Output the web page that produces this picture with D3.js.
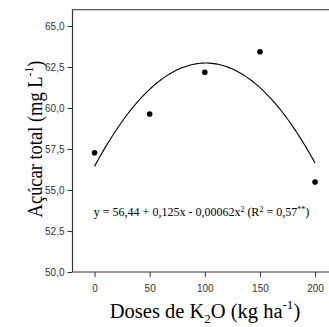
<!DOCTYPE html>
<html><head><meta charset="utf-8">
<script src="https://cdn.jsdelivr.net/npm/d3@7"></script>
<style>body{margin:0;background:#fff}svg{display:block}</style>
</head><body>
<script>
const doses = [0, 50, 100, 150, 200];
const acucar = [57.27, 59.63, 62.18, 63.43, 55.49];
const coef = [56.44, 0.125, -0.00062];
const xTicks = [0, 50, 100, 150, 200];
const yTicks = [50, 52.5, 55, 57.5, 60, 62.5, 65];

const W = 329, H = 327;
const svg = d3.select("body").append("svg").attr("width", W).attr("height", H);
const x = d3.scaleLinear().domain([-20, 212]).range([72.5, 328.3]);
const y = d3.scaleLinear().domain([50, 66]).range([272, 9.6]);
const fmt = v => d3.format(".1f")(v).replace(".", ",");

// frame top line
svg.append("line").attr("x1", x(-20)).attr("x2", W).attr("y1", y(66)).attr("y2", y(66))
  .attr("stroke", "#555").attr("stroke-width", 1.3);

const ya = svg.append("g").attr("transform", `translate(${x(-20)},0)`)
  .call(d3.axisLeft(y).tickValues(yTicks).tickFormat(fmt).tickSize(5).tickPadding(3));
const xa = svg.append("g").attr("transform", `translate(0,${y(50)})`)
  .call(d3.axisBottom(x).tickValues(xTicks).tickSize(5).tickPadding(8));
[ya, xa].forEach(a => {
  a.select(".domain").attr("stroke", "#333").attr("stroke-width", 1.2);
  a.selectAll(".tick line").attr("stroke", "#333");
  a.selectAll("text").attr("font-family", "Liberation Sans, Arial, sans-serif")
    .attr("font-size", 10).attr("fill", "#333");
});
ya.select(".domain").attr("d", `M0,${y(50)}V${y(66)}`);
xa.select(".domain").attr("d", `M${x(-20)},0H${W}`);

// regression curve
const xs = d3.range(0, 200.01, 2);
const line = d3.line().x(d => x(d)).y(d => y(coef[0] + coef[1] * d + coef[2] * d * d));
svg.append("path").datum(xs).attr("d", line).attr("fill", "none")
  .attr("stroke", "#000").attr("stroke-width", 1.1);

svg.selectAll("circle.pt").data(doses).enter().append("circle")
  .attr("cx", d => x(d)).attr("cy", (d, i) => y(acucar[i])).attr("r", 2.8).attr("fill", "#000");

// equation
const eq = svg.append("text").attr("x", 201.5).attr("y", 216).attr("text-anchor", "middle")
  .attr("font-family", "Liberation Serif, Times New Roman, serif").attr("font-size", 12).attr("fill", "#000");
eq.append("tspan").text("y = 56,44 + 0,125x - 0,00062x");
eq.append("tspan").attr("dy", -4.5).attr("font-size", 8).text("2");
eq.append("tspan").attr("dy", 4.5).text(" (R");
eq.append("tspan").attr("dy", -4.5).attr("font-size", 8).text("2");
eq.append("tspan").attr("dy", 4.5).text(" = 0,57");
eq.append("tspan").attr("dy", -4.5).attr("font-size", 8).text("**");
eq.append("tspan").attr("dy", 4.5).text(")");

// x title
const xt = svg.append("text").attr("x", 205).attr("y", 318).attr("text-anchor", "middle")
  .attr("font-family", "Liberation Serif, Times New Roman, serif").attr("font-size", 20.5).attr("fill", "#000");
xt.append("tspan").text("Doses de K");
xt.append("tspan").attr("dy", 5).attr("font-size", 13).text("2");
xt.append("tspan").attr("dy", -5).text("O (kg ha");
xt.append("tspan").attr("dy", -9).attr("font-size", 13).text("-1");
xt.append("tspan").attr("dy", 9).text(")");

// y title
const yt = svg.append("text").attr("transform", "translate(42,139) rotate(-90) scale(0.9,1)").attr("text-anchor", "middle")
  .attr("font-family", "Liberation Serif, Times New Roman, serif").attr("font-size", 20.5).attr("fill", "#000");
yt.append("tspan").text("Açúcar total (mg L");
yt.append("tspan").attr("dy", -9).attr("font-size", 13).text("-1");
yt.append("tspan").attr("dy", 9).text(")");
</script>
</body></html>
